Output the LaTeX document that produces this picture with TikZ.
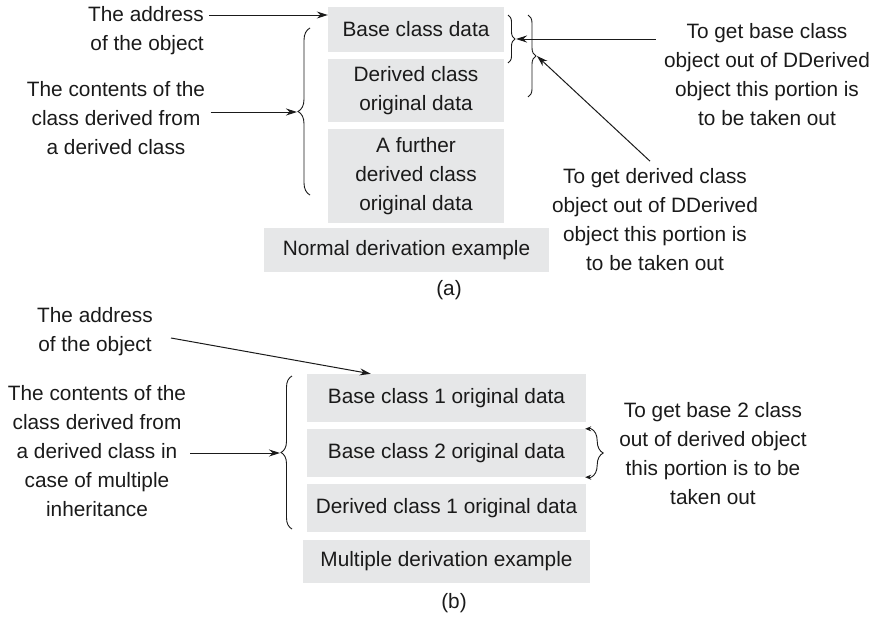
\documentclass[tikz,border=0pt]{standalone}
\usepackage{fontspec}
\setmainfont{Liberation Sans}
\usepackage{xcolor}
\usepackage{tikz}
\usetikzlibrary{arrows.meta,decorations.pathreplacing}
\definecolor{cInk}{HTML}{1A1A1A}
\definecolor{cFill}{HTML}{E6E7E8}
\tikzset{
  gbox/.style={fill=cFill,draw=none,align=center,text=cInk,inner sep=0pt},
  txt/.style={align=center,text=cInk,inner sep=0pt},
  arr/.style={-{Stealth[length=11pt,width=7pt]},line width=1pt,color=cInk},
  tarr/.style={-{Stealth[length=6pt,width=5pt]},line width=0.9pt,color=cInk},
  brc/.style={decorate,decoration={brace,amplitude=#1},line width=0.9pt,color=cInk},
  brc/.default=8,
}

\begin{document}
\begin{tikzpicture}[x=1pt,y=-1pt,font=\fontsize{20.8}{29}\selectfont]
        \useasboundingbox (0,0) rectangle (873,619);
        \node[gbox,minimum width=176,minimum height=45] (baseA) at (416,29.5) {Base class data};
        \node[gbox,minimum width=176,minimum height=63] (dercA) at (416,90.5) {Derived class\\original data};
        \node[gbox,minimum width=176,minimum height=94] (furA) at (416,176) {A further\\derived class\\original data};
        \node[gbox,minimum width=285,minimum height=44] (normA) at (406.5,250) {Normal derivation example};
        \node[txt] (capA) at (449,290) {(a)};
        \node[txt,anchor=east,align=right] (addrA) at (204,30.5) {The address\\of the object};
        \node[txt] (contA) at (116,118.5) {The contents of the\\class derived from\\a derived class};
        \node[txt] (getBaseA) at (767,74.5) {To get base class\\object out of DDerived\\object this portion is\\to be taken out};
        \node[txt] (getDerA) at (655,219.5) {To get derived class\\object out of DDerived\\object this portion is\\to be taken out};
        \draw[brc=12] (310,195) -- (310,28);
        \draw[brc=7] (508,15) -- (508,63);
        \draw[brc=8] (528,15) -- (528,97);
        \coordinate (tipA) at (297,112);
        \coordinate (tipA1) at (516,39);
        \coordinate (tipA2) at (537,56);
        \draw[arr] ([xshift=5,yshift=15.5]addrA.east) -- ([yshift=14.5]baseA.west);
        \draw[arr] ([xshift=5.5,yshift=6.5]contA.east) -- (tipA);
        \draw[arr] ([xshift=-8,yshift=35.5]getBaseA.west) -- (tipA1);
        \draw[arr] ([xshift=-5,yshift=7]getDerA.north) -- (tipA2);

        \node[gbox,minimum width=279,minimum height=48] (b1) at (446.5,398) {Base class 1 original data};
        \node[gbox,minimum width=279,minimum height=48] (b2) at (446.5,453) {Base class 2 original data};
        \node[gbox,minimum width=279,minimum height=48] (b3) at (446.5,508) {Derived class 1 original data};
        \node[gbox,minimum width=287,minimum height=43] (multB) at (446.5,561.5) {Multiple derivation example};
        \node[txt] (capB) at (454,603) {(b)};
        \node[txt] (addrB) at (95,331.5) {The address\\of the object};
        \node[txt] (contB) at (97,451.5) {The contents of the\\class derived from\\a derived class in\\case of multiple\\inheritance};
        \node[txt] (getBaseB) at (713,454) {To get base 2 class\\out of derived object\\this portion is to be\\taken out};
        \draw[brc=11] (292,529) -- (292,376);
        \draw[brc=12] ([xshift=5]b2.north east) -- ([xshift=5]b2.south east);
        \coordinate (tipB) at (280,453);
        \draw[arr] ([xshift=18,yshift=-6.5]addrB.east) -- ([xshift=64]b1.north west);
        \draw[arr] ([xshift=4,yshift=-1.5]contB.east) -- (tipB);
        \draw[tarr] ([xshift=5]b2.north east) -- ([xshift=-1]b2.north east);
        \draw[tarr] ([xshift=5]b2.south east) -- ([xshift=-1]b2.south east);
      \end{tikzpicture}
\end{document}
